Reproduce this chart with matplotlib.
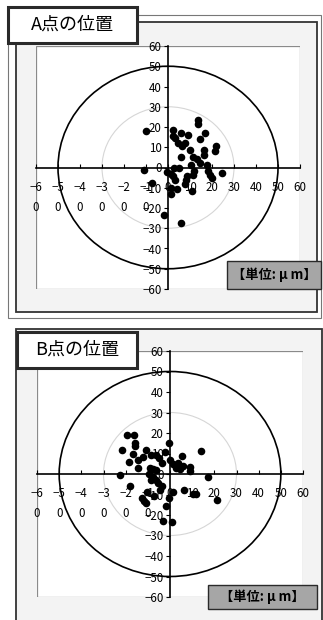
import matplotlib
matplotlib.use('Agg')
import matplotlib.pyplot as plt
from matplotlib.patches import Rectangle, Circle

plt.rcParams['font.family'] = ['Noto Sans CJK JP', 'DejaVu Sans']

W, H = 323, 620

# A点 measured positions (um)
a_x = [-10, -11, -7.4, -1.6, 5.8, 2.4, 2.4, 3.0, 5.9, 9.0, 4.7, 6.5, 7.7, 5.8, 10.0,
       13.5, 13.5, 14.5, 16.8, 16.4, 16.4, 22.0, 21.3, 11.5, 13.0, 14.5, 10.6, 17.6,
       18.0, 19.0, 19.8, 24.4, 2.7, 5.1, -0.6, 1.2, 2.4, 3.2, 8.5, 8.2, 12.0, 11.2,
       7.7, 10.8, 1.2, 1.2, 3.9]
a_y = [18, -1, -7.6, -23.5, -27.6, 18.4, 15.7, 14.5, 17.1, 16.2, 12.1, 10.5, 12.1,
       5.4, 8.7, 23.7, 21.7, 14.1, 17.1, 8.4, 6.2, 10.4, 8.2, 5.1, 4.2, 2.4, 1.2, 1.2,
       -1.6, -3.8, -5.4, -2.6, 0.0, 0.0, -2.1, -3.3, -4.3, -6.3, -4.3, -6.3, -1.6,
       -3.8, -8.3, -11.6, -10.0, -13.3, -10.6]

# B点 measured positions (um)
b_x = [-19.6, -16.3, -15.8, -15.8, -21.8, -16.5, -18.4, -14.3, -14.3, -10.7, -12.2,
       -8.7, -6.3, -4.8, -3.7, -2.3, -0.3, 0.0, 1.2, 2.5, 3.5, 4.5, 5.8, 5.6, 8.8,
       8.8, 13.8, 17.0, -22.5, -9.0, -7.5, -6.3, -9.5, -7.5, -8.5, -6.5, -18.2,
       -5.3, -3.7, -4.5, -10.5, -7.2, -12.8, -11.8, -10.8, -2.0, -0.5, 1.5, 6.2,
       10.5, 11.7, 21.3, -3.0, 1.0]
b_y = [19, 19, 15.3, 13.7, 11.5, 9.8, 5.8, 6.8, 3.0, 11.5, 8.5, 9.3, 9.3, 7.6, 5.5,
       10.9, 15.0, 7.0, 5.0, 3.0, 5.5, 2.5, 4.0, 8.8, 3.5, 1.4, 11.0, -1.7, -0.5,
       2.8, 2.5, 2.0, 0.0, -1.3, -3.0, -3.0, -5.8, -4.5, -5.9, -7.8, -9.0, -10.6,
       -11.5, -13.0, -14.2, -15.5, -11.7, -8.8, -7.6, -9.8, -9.8, -12.7, -23.0, -23.6]

ticks = [-60, -50, -40, -30, -20, -10, 0, 10, 20, 30, 40, 50, 60]
x_labels = ['−6\n0', '−5\n0', '−4\n0', '−3\n0', '−2\n0', '−1\n0',
            '0', '10', '20', '30', '40', '50', '60']
y_labels = ['−60', '−50', '−40', '−30', '−20', '−10',
            '0', '10', '20', '30', '40', '50', '60']


def fig_rect(x0, y0, x1, y1):
    return [x0 / W, 1 - y1 / H, (x1 - x0) / W, (y1 - y0) / H]


def add_box(fig, px, **kw):
    l, b, w, h = fig_rect(*px)
    r = Rectangle((l, b), w, h, transform=fig.transFigure, **kw)
    fig.add_artist(r)
    return r


def draw_panel(fig, xs, ys, title, outer, area, plot, tbox, ubox):
    if outer is not None:
        add_box(fig, outer, facecolor='white', edgecolor='#777777', lw=0.8, zorder=-3)
    add_box(fig, area, facecolor='#f3f3f3', edgecolor='#333333', lw=1.3, zorder=-2)

    ax = fig.add_axes(fig_rect(*plot), zorder=0)
    ax.set_facecolor('white')
    ax.set_xlim(-60, 60)
    ax.set_ylim(-60, 60)
    ax.spines['top'].set_visible(False)
    ax.spines['right'].set_visible(False)
    ax.spines['left'].set_position(('data', 0))
    ax.spines['bottom'].set_position(('data', 0))
    ax.spines['left'].set_linewidth(1.2)
    ax.spines['bottom'].set_linewidth(1.2)
    # plot area border
    ax.add_patch(Rectangle((0, 0), 1, 1, transform=ax.transAxes, fill=False,
                           edgecolor='#8a8a8a', lw=0.9, zorder=0.5))
    ax.add_patch(Circle((0, 0), 50, fill=False, edgecolor='black', lw=1.2, zorder=1))
    ax.add_patch(Circle((0, 0), 30, fill=False, edgecolor='#d6d6d6', lw=0.8, zorder=1))
    ax.scatter(xs, ys, s=30, c='black', zorder=5, linewidths=0)

    ax.set_xticks(ticks)
    ax.set_xticklabels(x_labels)
    ax.set_yticks(ticks)
    ax.set_yticklabels(y_labels)
    ax.tick_params(axis='x', direction='in', length=3, pad=9.5, labelsize=8.3)
    ax.tick_params(axis='y', direction='out', length=3, pad=1.5, labelsize=8.3)
    for lbl in ax.get_xticklabels():
        lbl.set_linespacing(1.7)

    # title box
    add_box(fig, tbox, facecolor='white', edgecolor='#2a2a2a', lw=2.2, zorder=5)
    l, b, w, h = fig_rect(*tbox)
    fig.text(l + w / 2, b + h / 2, title, ha='center', va='center',
             fontsize=13, zorder=6)

    # unit box
    add_box(fig, ubox, facecolor='#a6a6a6', edgecolor='#2a2a2a', lw=1.0, zorder=5)
    l, b, w, h = fig_rect(*ubox)
    fig.text(l + w / 2, b + h / 2, '【単位: μ m】', ha='center', va='center',
             fontsize=9.5, fontweight='bold', zorder=6)
    return ax


fig = plt.figure(figsize=(W / 100, H / 100), dpi=100)

draw_panel(fig, a_x, a_y, 'A点の位置',
           outer=(8, 15, 321, 318), area=(16, 22, 317, 312),
           plot=(36, 46, 300, 289), tbox=(8, 7, 137, 43), ubox=(227, 261, 321, 289))

draw_panel(fig, b_x, b_y, 'B点の位置',
           outer=None, area=(16, 329, 322, 622),
           plot=(37, 351, 303, 597), tbox=(17, 332, 137, 368), ubox=(208, 585, 317, 609))

fig.savefig('out.png', dpi=100)
